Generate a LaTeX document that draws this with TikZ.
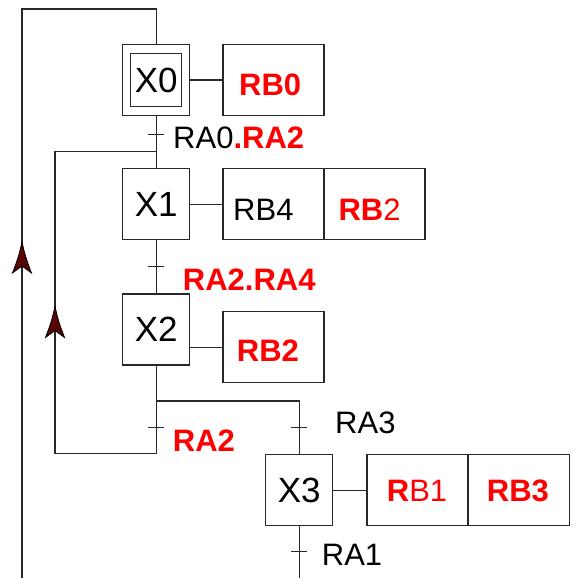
\documentclass[tikz,border=0pt]{standalone}
\usepackage{fontspec}
\setmainfont{Liberation Sans}
\definecolor{sigred}{RGB}{255,0,0}
\definecolor{arrowred}{RGB}{90,5,5}
\definecolor{linegray}{RGB}{40,40,40}
\begin{document}
\begin{tikzpicture}[x=1pt,y=1pt,
  stepbox/.style={draw=linegray, line width=1.2pt, minimum width=67pt, minimum height=71pt, inner sep=0pt, font=\fontsize{35}{40}\selectfont},
  innerbox/.style={draw=linegray, line width=1.2pt, minimum width=51pt, minimum height=53pt, inner sep=0pt, font=\fontsize{35}{40}\selectfont},
  actbox/.style={draw=linegray, line width=1.2pt, minimum width=101pt, minimum height=71pt, inner sep=0pt},
  lbl/.style={anchor=base west, inner sep=0pt, font=\fontsize{31}{36}\selectfont},
  link/.style={draw=linegray, line width=1.1pt},
  uph/.pic={\filldraw[fill=arrowred, draw=black, line width=0.8pt, line join=miter]
     (0,0) .. controls (-3.5,-15) .. (-9.5,-31) -- (0,-24) -- (9.5,-31) .. controls (3.5,-15) .. (0,0) -- cycle;}
]
\useasboundingbox (0,0) rectangle (574,-578);
\clip (0,0) rectangle (574,-578);

% steps
\node[stepbox] (X0) at (156.3,-80) {};
\node[innerbox] (X0in) at (156.2,-80) {X0};
\node[stepbox] (X1) at (156.3,-204.3) {X1};
\node[stepbox] (X2) at (156.3,-329.5) {X2};
\node[stepbox] (X3) at (299.2,-490.2) {X3};

% action boxes
\node[actbox] (A0) at (273.5,-80) {};
\node[actbox] (A1a) at (273.5,-204.3) {};
\node[actbox] (A1b) at (374.5,-204.3) {};
\node[actbox] (A2) at (273.5,-347.3) {};
\node[actbox] (A3a) at (417.5,-490.2) {};
\node[actbox] (A3b) at (518.8,-490.2) {};

% coordinates
\coordinate (t0) at (156.3,-134.3);
\coordinate (t1) at (156.3,-266.7);
\coordinate (t2) at (156.3,-427.7);
\coordinate (t3) at (299.2,-427.7);
\coordinate (t4) at (299.2,-551.7);
\coordinate (j0) at (156.3,-151.7);
\coordinate (d1) at (156.3,-401);
\coordinate (lb) at (156.3,-453.3);
\coordinate (ll) at (55,-453.3);
\coordinate (lt) at (55,-151.7);
\coordinate (b1) at (299.2,-600);
\coordinate (b2) at (22,-600);
\coordinate (tl) at (22,-9);
\coordinate (tr) at (156.3,-9);
\coordinate (a1) at (22,-242);
\coordinate (a2) at (55,-306.5);

% sequence links
\draw[link] (X0.south) -- (X1.north);
\draw[link] (X1.south) -- (X2.north);
\draw[link] (X2.south) -- (lb) -- (ll) -- (lt) -- (j0);
\draw[link] (d1) -| (X3.north);
\draw[link] (X3.south) -- (b1) -- (b2) -- (tl) -- (tr) -- (X0.north);

% action links
\draw[link] (X0.east) -- (A0.west);
\draw[link] (X1.east) -- (A1a.west);
\draw[link] (A2.west -| X2.east) -- (A2.west);
\draw[link] (X3.east) -- (A3a.west);

% transition ticks
\foreach \t in {t0,t1,t2,t3,t4}
  \draw[link] (\t) ++(-8,0) -- ++(16,0);

% arrowheads
\pic at (a1) {uph};
\pic at (a2) {uph};

% transition labels
\node[lbl] (l0) at (173,-148.3) {RA0\textcolor{sigred}{\bfseries .RA2}};
\node[lbl, text=sigred] (l1) at (182.7,-290) {\bfseries RA2.RA4};
\node[lbl, text=sigred] (l2) at (172.7,-451.7) {\bfseries RA2};
\node[lbl] (l3) at (335,-433) {RA3};
\node[lbl] (l4) at (321.7,-565) {RA1};

% action labels
\node[lbl, text=sigred] (r0) at (239,-95) {\bfseries RB0};
\node[lbl] (r4) at (233,-220.5) {RB4};
\node[lbl, text=sigred] (r2a) at (338.3,-220.5) {{\bfseries RB}2};
\node[lbl, text=sigred] (r2b) at (236.7,-361.7) {\bfseries RB2};
\node[lbl, text=sigred] (r1) at (386.7,-501) {{\bfseries R}B1};
\node[lbl, text=sigred] (r3) at (486.7,-501) {\bfseries RB3};
\end{tikzpicture}
\end{document}
